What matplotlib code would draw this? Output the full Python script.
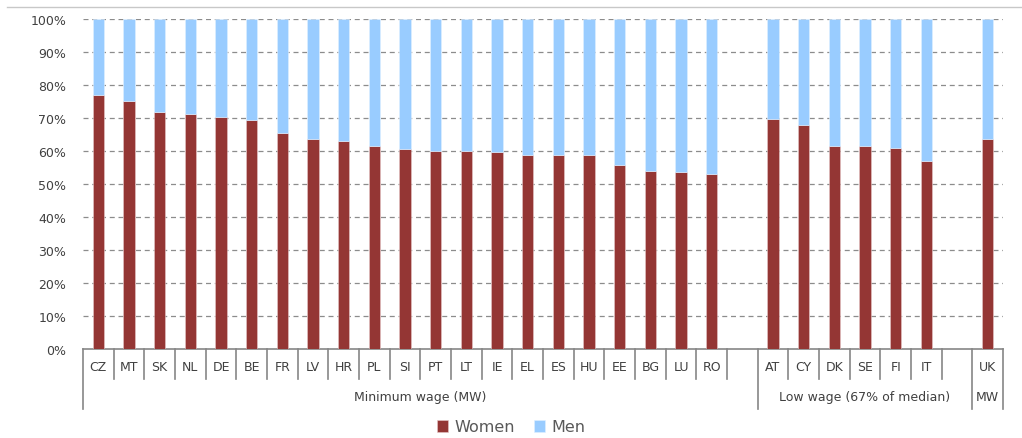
import numpy as np
import matplotlib.pyplot as plt
import matplotlib.lines as mlines
from matplotlib.ticker import PercentFormatter

# Share of women / men among workers (per cent)
min_wage_countries = ['CZ', 'MT', 'SK', 'NL', 'DE', 'BE', 'FR', 'LV', 'HR', 'PL', 'SI',
                      'PT', 'LT', 'IE', 'EL', 'ES', 'HU', 'EE', 'BG', 'LU', 'RO']
min_wage_women = [77.1, 75.2, 71.7, 71.3, 70.2, 69.4, 65.5, 63.5, 63.1, 61.6, 60.6,
                  60.1, 60.1, 59.7, 58.9, 58.9, 58.9, 55.8, 53.8, 53.5, 53.1]
low_wage_countries = ['AT', 'CY', 'DK', 'SE', 'FI', 'IT']
low_wage_women = [69.8, 67.9, 61.6, 61.6, 60.8, 57.0]
uk_countries = ['UK']
uk_women = [63.6]
group_names = ['Minimum wage (MW)', 'Low wage (67% of median)', 'MW']

# build one slot list, with a blank slot closing the first two groups
labels = min_wage_countries + [''] + low_wage_countries + [''] + uk_countries
women = min_wage_women + [np.nan] + low_wage_women + [np.nan] + uk_women
women = np.array(women)
men = 100 - women
x = np.arange(len(labels))

group_edges = [-0.5, len(min_wage_countries) + 0.5,
               len(min_wage_countries) + len(low_wage_countries) + 1.5, len(labels) - 0.5]

women_color = '#943634'
men_color = '#99CCFF'
text_color = '#404040'
axis_color = '#868686'

fig = plt.figure(figsize=(10.22, 4.39), dpi=100, facecolor='white')
ax = fig.add_axes([83 / 1022, 89 / 439, 920 / 1022, 330 / 439])

ax.bar(x, women, width=0.38, color=women_color, edgecolor='#e6c8c8', lw=0.4, zorder=3, label='Women')
ax.bar(x, men, width=0.38, bottom=women, color=men_color, edgecolor='#e0f0ff', lw=0.4, zorder=3, label='Men')

ax.set_xlim(-0.5, len(labels) - 0.5)
ax.set_ylim(0, 100)
ax.set_yticks(np.arange(0, 101, 10))
ax.yaxis.set_major_formatter(PercentFormatter(decimals=0))
ax.tick_params(axis='y', length=0, pad=12, labelsize=9, labelcolor=text_color)
ax.set_xticks([])

# dashed horizontal grid
for v in range(10, 101, 10):
    ax.axhline(v, color='#8c8c8c', lw=0.9, ls=(0, (4, 3)), zorder=1)

for side in ['top', 'right', 'left']:
    ax.spines[side].set_visible(False)
ax.spines['bottom'].set_color(axis_color)
ax.spines['bottom'].set_linewidth(1.2)

# hierarchical category axis
trans = ax.get_xaxis_transform()
short_drop = -30 / 330
long_drop = -60 / 330
for k in range(len(labels) + 1):
    edge = k - 0.5
    drop = long_drop if edge in group_edges else short_drop
    ax.plot([edge, edge], [0, drop], transform=trans, color=axis_color, lw=1.2, clip_on=False)

for xi, lab in zip(x, labels):
    ax.text(xi, -18 / 330, lab, transform=trans, ha='center', va='center',
            fontsize=9, color=text_color)

for i, name in enumerate(group_names):
    mid = (group_edges[i] + group_edges[i + 1]) / 2
    ax.text(mid, -48 / 330, name, transform=trans, ha='center', va='center',
            fontsize=9, color=text_color)

# legend under the chart
leg = fig.legend(loc='center', bbox_to_anchor=(0.5, 11 / 439), ncol=2, frameon=False,
                 fontsize=11.5, handlelength=0.7, handleheight=0.7, columnspacing=1.2,
                 handletextpad=0.4)
for t in leg.get_texts():
    t.set_color('#595959')

# thin frame line at the top of the chart area
fig.add_artist(mlines.Line2D([7 / 1022, 1], [1 - 8 / 439, 1 - 8 / 439],
                             transform=fig.transFigure, color='#c8c8c8', lw=1))

fig.savefig('out.png', dpi=100, facecolor='white')
